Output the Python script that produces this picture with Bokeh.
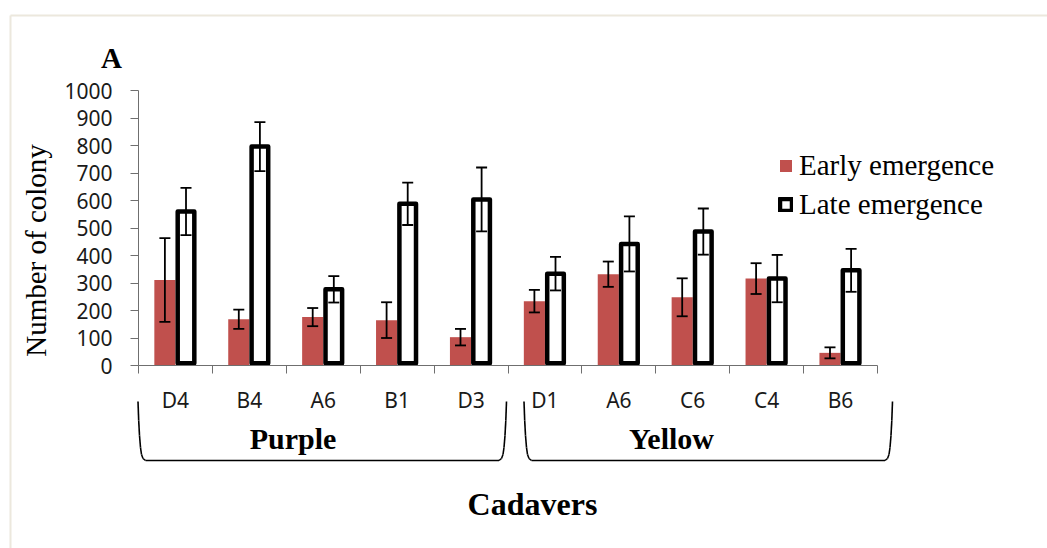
import math
from bokeh.plotting import figure
from bokeh.models import (Range1d, FixedTicker, ColumnDataSource, Whisker, TeeHead,
                          Legend, LegendItem, Label, Arrow)
from bokeh.embed import file_html
from bokeh.resources import INLINE

# ---- data -------------------------------------------------------------
cadavers = ["D4", "B4", "A6", "B1", "D3", "D1", "A6", "C6", "C4", "B6"]
groups = ["Purple", "Yellow"]
early = [311, 168, 176, 165, 103, 234, 332, 248, 316, 46]
early_err = [152, 35, 33, 65, 30, 41, 46, 69, 56, 20]
late = [560, 796, 277, 588, 604, 334, 442, 487, 316, 346]
late_err = [86, 89, 48, 77, 116, 61, 100, 84, 86, 78]
y_ticks = [0, 100, 200, 300, 400, 500, 600, 700, 800, 900, 1000]

# ---- layout -----------------------------------------------------------
W, H = 1047, 548
AL, AR, AT, AB = 138, 877, 90, 365          # axis box edges in px
N = len(cadavers)
YMAX = 1000
PX_X = (AR - AL) / N                         # px per category
PX_Y = (AB - AT) / YMAX                      # px per unit
LIFT = 12                                    # label anchor vs. glyph baseline, px

def sx(px):
    return (px - AL) / PX_X

def sy(py):
    return (AB - py) / PX_Y

RED = "#C0504D"
AXIS = "#6f6f6f"
SERIF = "Liberation Serif"
SANS = "Noto Sans"

# the frame fills the canvas; axes sit at fixed locations inside it
p = figure(width=W, height=H, output_backend="svg", toolbar_location=None,
           x_range=Range1d(sx(0), sx(W)), y_range=Range1d(sy(H), sy(0)),
           min_border=0)
p.background_fill_color = "white"
p.border_fill_color = "white"
p.outline_line_color = None
p.xgrid.visible = False
p.ygrid.visible = False

# ---- bars -------------------------------------------------------------
BAR_W = 1 / 3.5                               # 150% gap between groups
STROKE = 4.5
centers = [i + 0.5 for i in range(N)]
src = ColumnDataSource(dict(
    name=cadavers,
    xe=[c - BAR_W / 2 for c in centers],
    xl=[c + BAR_W / 2 for c in centers],
    early=early, late=late,
    e_up=[v + e for v, e in zip(early, early_err)],
    e_lo=[v - e for v, e in zip(early, early_err)],
    l_up=[v + e for v, e in zip(late, late_err)],
    l_lo=[v - e for v, e in zip(late, late_err)],
))

r_early = p.vbar(x="xe", top="early", bottom=0, width=BAR_W, source=src,
                 fill_color=RED, line_color=None)
r_late = p.vbar(x="xl", top="late", bottom=(STROKE / 2) / PX_Y,
                width=BAR_W - STROKE / PX_X, source=src,
                fill_color="white", line_color="black", line_width=STROKE,
                line_join="round")

for base, up, lo in (("xe", "e_up", "e_lo"), ("xl", "l_up", "l_lo")):
    p.add_layout(Whisker(base=base, upper=up, lower=lo, source=src,
                         dimension="height", line_color="black", line_width=1.8,
                         upper_head=TeeHead(size=11, line_color="black", line_width=1.8),
                         lower_head=TeeHead(size=11, line_color="black", line_width=1.8),
                         level="overlay"))

# ---- axes -------------------------------------------------------------
xa = p.xaxis[0]
xa.fixed_location = 0
xa.bounds = (0, N)
xa.ticker = FixedTicker(ticks=centers, minor_ticks=list(range(N + 1)))
xa.major_label_overrides = {c: n for c, n in zip(centers, cadavers)}
xa.major_tick_out = 0
xa.major_tick_in = 0
xa.minor_tick_out = 8
xa.minor_tick_in = 0
xa.minor_tick_line_color = AXIS
xa.axis_line_color = AXIS
xa.major_label_standoff = 12
xa.major_label_text_font = SANS
xa.major_label_text_font_size = "21px"
xa.major_label_text_color = "#1a1a1a"

ya = p.yaxis[0]
ya.fixed_location = 0
ya.bounds = (0, YMAX)
ya.ticker = FixedTicker(ticks=y_ticks)
ya.major_tick_out = 8
ya.major_tick_in = 0
ya.minor_tick_out = 0
ya.minor_tick_in = 0
ya.major_tick_line_color = AXIS
ya.axis_line_color = AXIS
ya.major_label_standoff = 18
ya.major_label_text_font = SANS
ya.major_label_text_font_size = "21px"
ya.major_label_text_color = "#1a1a1a"

# ---- texts ------------------------------------------------------------
def text(px, py, s, size, bold=False, angle=0.0):
    if angle:
        px -= LIFT
    else:
        py -= LIFT
    p.add_layout(Label(x=sx(px), y=sy(py), text=s, angle=angle,
                       text_align="center", text_baseline="alphabetic",
                       text_font=SERIF, text_font_size=size, text_color="black",
                       text_font_style="bold" if bold else "normal"))

text(111, 69, "A", "29px", bold=True)
text(47, 250, "Number of colony", "29px", angle=math.pi / 2)
text(532, 515, "Cadavers", "32px", bold=True)

# group brackets below the category labels
bracket_px = [(137.5, 506.0), (523.5, 892.0)]
group_text_px = [292.5, 671.0]
side = [(0, 401), (0.7, 420), (1.5, 435), (2.5, 447), (3.5, 454), (5, 458), (7.5, 460)]
seg = dict(x0=[], y0=[], x1=[], y1=[])
for (left, right) in bracket_px:
    pts = [(left + dx, y) for dx, y in side] + [(right - dx, y) for dx, y in reversed(side)]
    for (ax, ay), (bx, by) in zip(pts[:-1], pts[1:]):
        seg["x0"].append(sx(ax)); seg["y0"].append(sy(ay))
        seg["x1"].append(sx(bx)); seg["y1"].append(sy(by))
p.add_layout(Arrow(source=ColumnDataSource(seg), x_start="x0", y_start="y0",
                   x_end="x1", y_end="y1", end=None, line_color="black",
                   line_width=1.6))
for g, gx in zip(groups, group_text_px):
    text(gx, 450, g, "30px", bold=True)

# light frame around the chart area
frame = dict(x0=[sx(10), sx(10)], y0=[sy(15), sy(15)],
             x1=[sx(W), sx(10)], y1=[sy(15), sy(H)])
p.add_layout(Arrow(source=ColumnDataSource(frame), x_start="x0", y_start="y0",
                   x_end="x1", y_end="y1", end=None, line_color="#ECE8DD",
                   line_width=2))

# ---- legend -----------------------------------------------------------
legend = Legend(items=[LegendItem(label="Early emergence", renderers=[r_early]),
                       LegendItem(label="Late emergence", renderers=[r_late])],
                location=(778, H - 221), padding=0, margin=0, spacing=6,
                glyph_width=15, glyph_height=15, label_standoff=6,
                label_text_font=SERIF, label_text_font_size="29px",
                label_text_color="black", border_line_color=None,
                background_fill_alpha=0)
p.add_layout(legend)

open("out.html", "w").write(file_html(p, INLINE))
